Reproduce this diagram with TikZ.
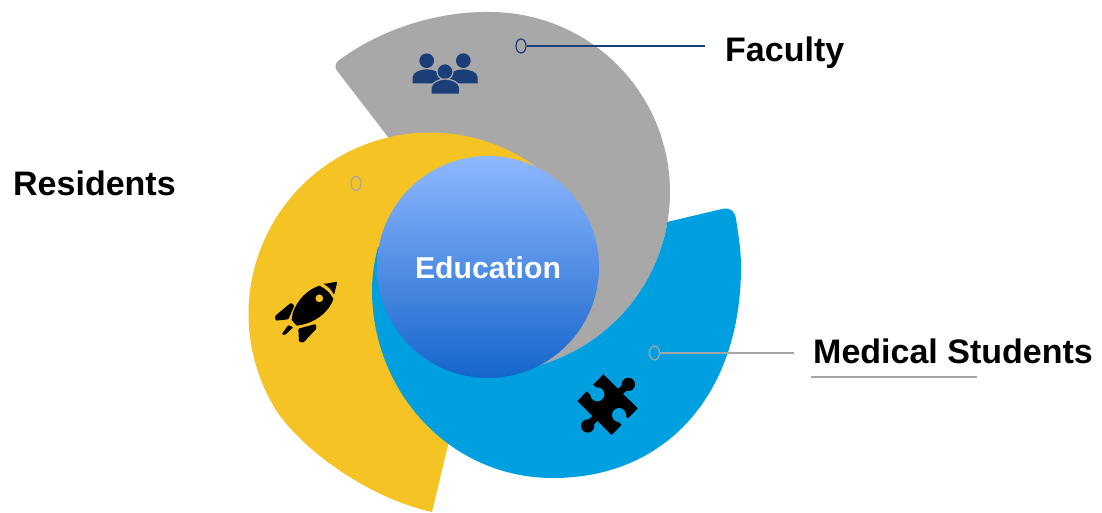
\documentclass[tikz,border=0pt]{standalone}
\usepackage{fontspec}
\setmainfont{Liberation Sans}
\usetikzlibrary{shapes.geometric}
\definecolor{grayshape}{HTML}{A8A8A8}
\definecolor{yellowshape}{HTML}{F6C324}
\definecolor{blueshape}{HTML}{009FE0}
\definecolor{navy}{HTML}{1A3E78}
\definecolor{lead}{HTML}{A6A6A6}
\definecolor{edutop}{HTML}{8FB8FF}
\definecolor{edubot}{HTML}{1565CB}
\tikzset{
  lbl/.style={anchor=base west,inner sep=0pt,font=\bfseries\fontsize{34}{36}\selectfont},
  ring/.style={ellipse,draw=#1,line width=1.2pt,minimum width=10pt,minimum height=14pt,inner sep=0pt},
  leader/.style={line width=1.2pt,draw=#1},
}
\begin{document}
\begin{tikzpicture}[x=1pt,y=-1pt]
\useasboundingbox (0,0) rectangle (1102,512);
% gray
\fill[grayshape] (345,56) .. controls (385,28) and (440,11) .. (490,12)
  -- plot[domain=-90:82,samples=60] ({490+180*cos(\x)},{192+180*sin(\x)})
  .. controls (500,374) and (490,340) .. (440,260) -- (388,137) -- (338,72)
  .. controls (333,66) and (335,62) .. (345,56) -- cycle;
% yellow
\fill[yellowshape] plot[domain=-52:-212,samples=80] ({430+181.5*cos(\x)},{314+181.5*sin(\x)})
  .. controls (300,447) and (365,497) .. (432,512)
  -- (448,445) -- (500,300) -- cycle;
% blue
\fill[blueshape] (667,222) -- (722,209) .. controls (730,207) and (735,211) .. (736,219)
  .. controls (739,238) and (741,252) .. (741,267)
  .. controls (741,392) and (668,478) .. (553,478)
  .. controls (450,478) and (372,392) .. (372,290)
  .. controls (372,275) and (375,258) .. (378,247)
  -- (480,300) -- (510,373)
  -- plot[domain=82:10.1,samples=50] ({490+180*cos(\x)},{192+180*sin(\x)}) -- cycle;
% centre
\node[circle,minimum size=222pt,inner sep=0pt,text height=24pt,top color=edutop,bottom color=edubot,text=white,font=\bfseries\fontsize{30.2}{32}\selectfont] (edu) at (488,267) {Education};
% people icon
\begin{scope}[shift={(400,40)},scale=1/3]
\fill[navy] (80,62) circle[radius=22];
\fill[navy] (190,62) circle[radius=22];
\fill[navy] (38,130) -- (38,112) .. controls (38,97) and (60,88) .. (80,88) .. controls (100,88) and (124,97) .. (125,112) -- (125,130) -- cycle;
\fill[navy] (145,130) -- (145,112) .. controls (146,97) and (170,88) .. (190,88) .. controls (210,88) and (233,97) .. (233,112) -- (233,130) -- cycle;
\filldraw[navy,draw=grayshape,line width=1.2pt] (135,95) circle[radius=24];
\filldraw[navy,draw=grayshape,line width=1.2pt] (93,163) -- (93,142) .. controls (95,127) and (118,117) .. (136,117) .. controls (155,117) and (177,127) .. (179,142) -- (179,163) -- cycle;
\end{scope}
% rocket icon
\begin{scope}[shift={(265,270)},scale=1/3]
\fill[black,rounded corners=1pt] (176,42) -- (217,35) -- (207,75) .. controls (200,60) and (190,50) .. (176,42) -- cycle;
\fill[black,even odd rule] (163,47) .. controls (185,58) and (197,70) .. (205,87)
  .. controls (195,120) and (155,160) .. (95,167) -- (80,150)
  .. controls (82,105) and (122,60) .. (163,47) -- cycle (163,85) circle[radius=12];
\fill[black,rounded corners=1pt] (78,98) -- (88,107) -- (70,148) -- (32,152) -- (30,138) -- cycle;
\fill[black,rounded corners=1pt] (100,176) -- (152,162) -- (155,175) -- (115,218) -- (102,215) -- cycle;
\fill[black,rounded corners=1pt] (70,165) -- (85,172) -- (60,195) -- (50,193) -- cycle;
\end{scope}
% puzzle icon
\begin{scope}[shift={(565,365)},scale=1/3]
\fill[black] (37,108) -- (115,28) -- (218,130) -- (140,210) -- cycle;
\fill[black] (190,58) circle[radius=20];
\fill[black] (68,183) circle[radius=20];
\draw[black,line width=7pt] (160,85) -- (185,62);
\draw[black,line width=7pt] (95,155) -- (72,178);
\fill[blueshape] (97,88) circle[radius=21];
\fill[blueshape] (162,150) circle[radius=21];
\draw[blueshape,line width=9pt] (92,86) -- (70,64);
\draw[blueshape,line width=9pt] (164,155) -- (188,178);
\end{scope}
% leaders
\node[ring=navy] (r1) at (521,46) {};
\coordinate (e1) at (705,46);
\draw[leader=navy] (r1) -- (e1);
\node[ring=lead] (r2) at (356,183.5) {};
\node[ring=lead] (r3) at (654.5,353) {};
\coordinate (e3) at (794,353);
\draw[leader=lead] (r3) -- (e3);
\coordinate (u1) at (811,377);
\coordinate (u2) at (977,377);
\draw[leader=lead] (u1) -- (u2);
% labels
\node[lbl] (faculty) at (725,61) {Faculty};
\node[lbl] (residents) at (13,195) {Residents};
\node[lbl] (medical) at (813,363) {Medical Students};
\end{tikzpicture}
\end{document}
